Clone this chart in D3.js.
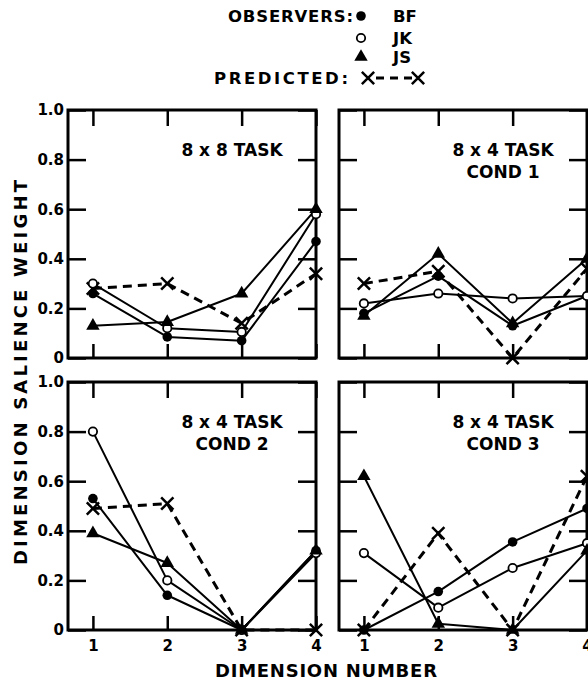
<!DOCTYPE html>
<html>
<head>
<meta charset="utf-8">
<script src="https://cdn.jsdelivr.net/npm/d3@7"></script>
<style>
  body { margin: 0; background: #fff; }
  svg { display: block; }
  text { font-family: "DejaVu Sans", "Liberation Sans", sans-serif; font-weight: bold; fill: #000; }
</style>
</head>
<body>
<svg id="chart"></svg>
<script>
// Dimension numbers on the x axis
const dims = [1, 2, 3, 4];

// y axis ticks
const yTicks = [0, 0.2, 0.4, 0.6, 0.8, 1.0];
const yTickLabels = ["0", "0.2", "0.4", "0.6", "0.8", "1.0"];

// panel titles, in the order 8x8, cond 1, cond 2, cond 3
const panelTitles = [
  ["8 x 8 TASK"],
  ["8 x 4 TASK", "COND 1"],
  ["8 x 4 TASK", "COND 2"],
  ["8 x 4 TASK", "COND 3"],
];

// salience weights, one row per panel
const bfWeights = [
  [0.26, 0.085, 0.07, 0.47],
  [0.18, 0.33, 0.13, 0.25],
  [0.53, 0.14, 0.0, 0.32],
  [0.0, 0.155, 0.355, 0.49],
];
const jkWeights = [
  [0.30, 0.12, 0.105, 0.58],
  [0.22, 0.26, 0.24, 0.25],
  [0.80, 0.20, 0.0, 0.31],
  [0.31, 0.09, 0.25, 0.35],
];
const jsWeights = [
  [0.13, 0.145, 0.26, 0.60],
  [0.17, 0.42, 0.14, 0.40],
  [0.39, 0.27, 0.0, 0.32],
  [0.62, 0.025, 0.0, 0.32],
];
const predictedWeights = [
  [0.28, 0.30, 0.14, 0.34],
  [0.30, 0.35, 0.0, 0.36],
  [0.49, 0.51, 0.0, 0.0],
  [0.0, 0.39, 0.0, 0.62],
];

const observerNames = ["BF", "JK", "JS"];

const svgWidth = 588,
  svgHeight = 681;
const svg = d3.select("#chart").attr("width", svgWidth).attr("height", svgHeight);

// panel placement
const pw = 248,
  ph = 248;
const panels = [
  { x: 68, y: 110, left: true, bottom: false },
  { x: 339, y: 110, left: false, bottom: false },
  { x: 68, y: 382, left: true, bottom: true },
  { x: 339, y: 382, left: false, bottom: true },
];

const x = d3.scaleLinear().domain([0.665, 4]).range([0, pw]);
const y = d3.scaleLinear().domain([0, 1]).range([ph, 0]);

const line = d3
  .line()
  .x((d, i) => x(dims[i]))
  .y((d) => y(d));

// marker drawing helpers
const marker = {
  BF: (g) => g.append("circle").attr("r", 4.8).attr("fill", "#000"),
  JK: (g) =>
    g.append("circle").attr("r", 4.2).attr("fill", "#fff").attr("stroke", "#000").attr("stroke-width", 1.8),
  JS: (g) =>
    g.append("path").attr("d", d3.symbol(d3.symbolTriangle).size(78)()).attr("fill", "#000"),
  PRED: (g) =>
    g
      .append("path")
      .attr("d", d3.symbol(d3.symbolTimes).size(100)())
      .attr("fill", "none")
      .attr("stroke", "#000")
      .attr("stroke-width", 2.5),
};

const styleAxis = (sel) => {
  sel.select(".domain").remove();
  sel.selectAll(".tick line").attr("stroke", "#000").attr("stroke-width", 2.5);
  sel
    .selectAll(".tick text")
    .attr("font-size", 15)
    .attr("font-family", '"DejaVu Sans", "Liberation Sans", sans-serif')
    .attr("font-weight", "bold")
    .attr("fill", "#000");
};

panels.forEach((p, k) => {
  const g = svg.append("g").attr("transform", "translate(" + p.x + "," + p.y + ")");

  // inward ticks on all four sides
  g.append("g")
    .call(
      d3
        .axisLeft(y)
        .tickValues(yTicks)
        .tickSizeInner(-18)
        .tickSizeOuter(0)
        .tickPadding(4)
        .tickFormat((d, i) => (p.left ? yTickLabels[i] : ""))
    )
    .call(styleAxis);

  g.append("g")
    .attr("transform", "translate(" + pw + ",0)")
    .call(d3.axisRight(y).tickValues(yTicks).tickSizeInner(-18).tickSizeOuter(0).tickFormat(""))
    .call(styleAxis);

  g.append("g")
    .call(d3.axisTop(x).tickValues(dims).tickSizeInner(-16).tickSizeOuter(0).tickFormat(""))
    .call(styleAxis);

  g.append("g")
    .attr("transform", "translate(0," + ph + ")")
    .call(
      d3
        .axisBottom(x)
        .tickValues(dims)
        .tickSizeInner(-14)
        .tickSizeOuter(0)
        .tickPadding(10)
        .tickFormat((d) => (p.bottom ? d : ""))
    )
    .call(styleAxis);

  // frame
  g.append("rect")
    .attr("width", pw)
    .attr("height", ph)
    .attr("fill", "none")
    .attr("stroke", "#000")
    .attr("stroke-width", 3);

  // title
  const cx = 164;
  const t = g
    .append("text")
    .attr("x", cx)
    .attr("y", 46)
    .attr("text-anchor", "middle")
    .attr("font-size", 17);
  panelTitles[k].forEach((s, i) => {
    t.append("tspan").attr("x", cx).attr("dy", i === 0 ? 0 : 22).text(s);
  });

  // observer lines
  const series = [
    { key: "BF", values: bfWeights[k] },
    { key: "JK", values: jkWeights[k] },
    { key: "JS", values: jsWeights[k] },
  ];

  g.append("path")
    .datum(predictedWeights[k])
    .attr("fill", "none")
    .attr("stroke", "#000")
    .attr("stroke-width", 3)
    .attr("stroke-dasharray", "9,6")
    .attr("d", line);

  series.forEach((s) => {
    g.append("path")
      .datum(s.values)
      .attr("fill", "none")
      .attr("stroke", "#000")
      .attr("stroke-width", 2)
      .attr("stroke-linejoin", "round")
      .attr("d", line);
  });

  // markers on top
  predictedWeights[k].forEach((v, i) => {
    marker.PRED(g.append("g").attr("transform", "translate(" + x(dims[i]) + "," + y(v) + ")"));
  });
  series.forEach((s) => {
    s.values.forEach((v, i) => {
      marker[s.key](g.append("g").attr("transform", "translate(" + x(dims[i]) + "," + y(v) + ")"));
    });
  });
});

// axis titles
svg
  .append("text")
  .attr("x", 215)
  .attr("y", 677)
  .attr("font-size", 18)
  .attr("textLength", 222)
  .attr("lengthAdjust", "spacing")
  .text("DIMENSION NUMBER");

svg
  .append("text")
  .attr("transform", "translate(27,565) rotate(-90)")
  .attr("font-size", 18)
  .attr("textLength", 385)
  .attr("lengthAdjust", "spacing")
  .text("DIMENSION SALIENCE WEIGHT");

// legend
const legend = svg.append("g");
legend
  .append("text")
  .attr("x", 228)
  .attr("y", 22)
  .attr("font-size", 16.5)
  .attr("textLength", 125)
  .attr("lengthAdjust", "spacing")
  .text("OBSERVERS:");

const legendRows = [16, 38, 57];
observerNames.forEach((name, i) => {
  marker[name](legend.append("g").attr("transform", "translate(361," + legendRows[i] + ")"));
  legend
    .append("text")
    .attr("x", 393)
    .attr("y", legendRows[i] + 6)
    .attr("font-size", 16.5)
    .text(name);
});

legend
  .append("text")
  .attr("x", 214)
  .attr("y", 84)
  .attr("font-size", 16.5)
  .attr("textLength", 134)
  .attr("lengthAdjust", "spacing")
  .text("PREDICTED:");

legend
  .append("line")
  .attr("x1", 368)
  .attr("x2", 418)
  .attr("y1", 78)
  .attr("y2", 78)
  .attr("stroke", "#000")
  .attr("stroke-width", 3)
  .attr("stroke-dasharray", "8,6")
  .attr("stroke-dashoffset", -8);
marker.PRED(legend.append("g").attr("transform", "translate(368,78)"));
marker.PRED(legend.append("g").attr("transform", "translate(418,78)"));
</script>
</body>
</html>
